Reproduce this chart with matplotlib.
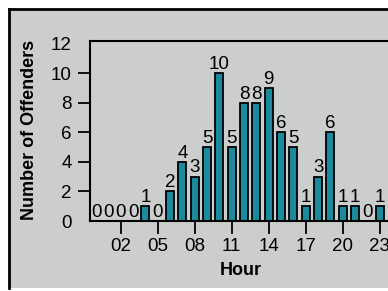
import matplotlib
matplotlib.use('Agg')
import matplotlib.pyplot as plt
import numpy as np

hours = list(range(24))
offenders = [0, 0, 0, 0, 1, 0, 2, 4, 3, 5, 10, 5, 8, 8, 9, 6, 5, 1, 3, 6, 1, 1, 0, 1]
xtick_pos = [2, 5, 8, 11, 14, 17, 20, 23]
xtick_labels = ['02', '05', '08', '11', '14', '17', '20', '23']
ytick_pos = [0, 2, 4, 6, 8, 10, 12]

bg = '#cbcecd'
bar_col = '#1b8a9c'

plt.rcParams['font.family'] = ['Liberation Sans', 'DejaVu Sans']

fig = plt.figure(figsize=(3.88, 2.91), dpi=100)
fig.patch.set_facecolor('white')

# grey panel with black border on left/top (cropped on the right)
panel = fig.add_axes([9 / 388, 0.01, 1.0, 1 - 9 / 291 - 0.01])
panel.set_facecolor(bg)
panel.set_xticks([])
panel.set_yticks([])
for side in ['right', 'bottom']:
    panel.spines[side].set_visible(False)
for side in ['left', 'top']:
    panel.spines[side].set_linewidth(2)

ax = fig.add_axes([90 / 388, 70 / 291, (392 - 90) / 388, 180 / 291])
ax.set_facecolor(bg)
ax.bar(hours, offenders, width=0.65, color=bar_col, edgecolor='black', linewidth=1.3)

for h, v in zip(hours, offenders):
    ax.text(h, v + 0.02, str(v), ha='center', va='bottom', fontsize=13.5, clip_on=True)

ax.set_xlim(-0.5, 24)
ax.set_ylim(0, 12.2)
ax.set_xticks(xtick_pos)
ax.set_xticklabels(xtick_labels, fontsize=13.5)
ax.set_yticks(ytick_pos)
ax.set_yticklabels([str(v) for v in ytick_pos], fontsize=13.5)
ax.tick_params(axis='x', length=9, width=1.3, pad=3)
ax.tick_params(axis='y', length=9, width=1.3, pad=4)
yt = ax.yaxis.get_major_ticks()
yt[0].tick1line.set_visible(False)
yt[-1].tick1line.set_visible(False)
for s in ax.spines.values():
    s.set_linewidth(1.5)

ax.set_xlabel('Hour', fontsize=13, fontweight='bold', labelpad=5)
fig.text(30 / 388, 1 - 130 / 291, 'Number of Offenders', rotation=90,
         ha='center', va='center', fontsize=13, fontweight='bold')

fig.savefig('out.png', dpi=100, facecolor=fig.get_facecolor())
